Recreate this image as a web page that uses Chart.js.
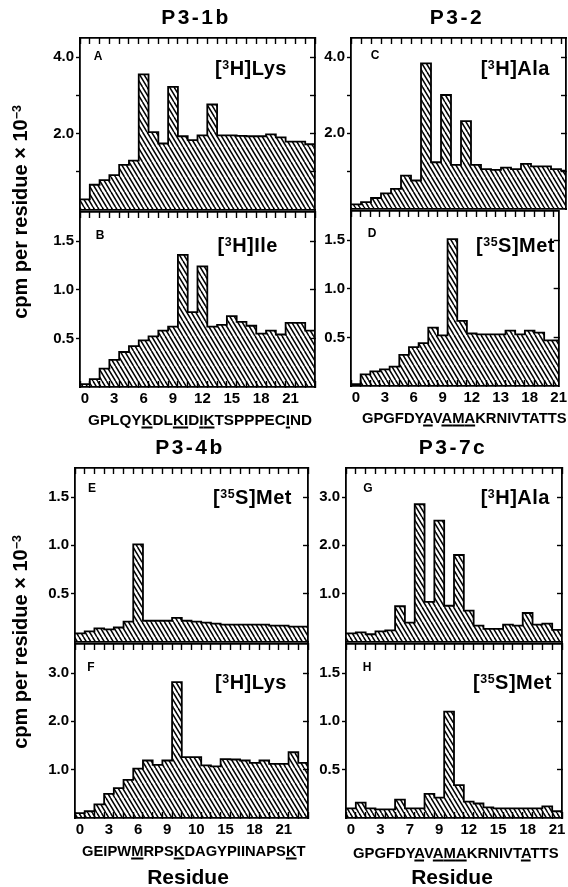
<!DOCTYPE html>
<html>
<head>
<meta charset="utf-8">
<script src="https://cdn.jsdelivr.net/npm/chart.js@4.4.1/dist/chart.umd.min.js"></script>
<style>
  html, body { margin: 0; padding: 0; background: #fff; }
  body { position: relative; width: 568px; height: 887px; overflow: hidden; font-family: "Liberation Sans", Arial, sans-serif; color: #000; }
  canvas { position: absolute; }
  .txt { position: absolute; white-space: nowrap; font-weight: bold; line-height: 1; }
  .txt sup { font-size: 62%; vertical-align: 0; position: relative; top: -0.5em; }
  .seq u { text-decoration-thickness: 1.5px; text-underline-offset: 2px; }
</style>
</head>
<body>
<script>
// cpm per residue x 10^-3, one value per residue bin
const lysA = [0.28, 0.66, 0.78, 0.91, 1.18, 1.29, 3.55, 2.04, 1.74, 3.22, 1.93, 1.83, 1.95, 2.76, 1.95, 1.95, 1.94, 1.93, 1.93, 1.98, 1.90, 1.79, 1.79, 1.72]
const ileB = [0.03, 0.08, 0.19, 0.28, 0.36, 0.42, 0.48, 0.52, 0.58, 0.62, 1.36, 0.77, 1.24, 0.62, 0.64, 0.73, 0.67, 0.63, 0.55, 0.58, 0.54, 0.66, 0.66, 0.58]
const alaC = [0.12, 0.18, 0.29, 0.41, 0.53, 0.88, 0.75, 3.83, 1.23, 3.00, 1.16, 2.31, 1.16, 1.05, 1.03, 1.09, 1.05, 1.19, 1.12, 1.12, 1.05, 1.01]
const metD = [0.02, 0.12, 0.15, 0.17, 0.20, 0.32, 0.40, 0.44, 0.60, 0.52, 1.51, 0.67, 0.54, 0.53, 0.53, 0.53, 0.57, 0.53, 0.57, 0.55, 0.47, 0.47]
const metE = [0.09, 0.11, 0.14, 0.13, 0.15, 0.21, 1.01, 0.22, 0.22, 0.22, 0.25, 0.22, 0.21, 0.20, 0.19, 0.18, 0.18, 0.18, 0.18, 0.18, 0.17, 0.17, 0.16, 0.16]
const lysF = [0.10, 0.14, 0.28, 0.50, 0.62, 0.79, 1.02, 1.19, 1.10, 1.19, 2.81, 1.26, 1.26, 1.09, 1.07, 1.22, 1.21, 1.19, 1.14, 1.19, 1.12, 1.12, 1.36, 1.14]
const alaG = [0.18, 0.20, 0.16, 0.22, 0.24, 0.74, 0.40, 2.85, 0.83, 2.51, 0.75, 1.80, 0.65, 0.34, 0.27, 0.27, 0.36, 0.34, 0.60, 0.36, 0.38, 0.25]
const metH = [0.10, 0.16, 0.10, 0.09, 0.09, 0.19, 0.10, 0.10, 0.25, 0.21, 1.10, 0.34, 0.17, 0.15, 0.11, 0.10, 0.10, 0.10, 0.10, 0.10, 0.12, 0.07]

// Tick labels (every third residue), as printed in the figure
const residuesAB = ["0", "3", "6", "9", "12", "15", "18", "21"]
const residuesCD = ["0", "3", "6", "9", "12", "13", "18", "21"]
const residuesF = ["0", "3", "6", "9", "10", "15", "18", "21"]
const residuesH = ["0", "3", "7", "9", "12", "15", "18", "21"]
const yTicksBig = [1, 2, 3, 4]
const yTicksMid = [1, 2, 3]
const yTicksSmall = [0.5, 1, 1.5]

// Sequences under the x axes, with the underlined positions
const seqAB = "GPLQYKDLKIDIKTSPPPECIND"
const seqCD = "GPGFDYAVAMAKRNIVTATTS"
const seqF = "GEIPWMRPSKDAGYPIINAPSKT"
const seqH = "GPGFDYAVAMAKRNIVTATTS"
const markAB = [5, 8, 9, 11, 12, 20]
const markCD = [6, 8, 9, 10]
const markF = [5, 9, 21]
const markH = [6, 8, 9, 10, 17]

const AXIS_W = 50, PAD = 10
const tickFont = { family: "Liberation Sans", weight: "bold", size: 15 }

// box = [left, top, right, bottom] of the plot area in page pixels
const panels = [
  { values: lysA, box: [80, 37, 315, 211], xMax: 24, yMax: 4.5, yTicks: yTicksBig, yLabels: [2, 4] },
  { values: ileB, box: [80, 211, 315, 387], xMax: 24, yMax: 1.8, yTicks: yTicksSmall, yLabels: yTicksSmall, xLabels: residuesAB },
  { values: alaC, box: [351, 37, 566, 210], xMax: 21.5, yMax: 4.5, yTicks: yTicksBig, yLabels: [2, 4] },
  { values: metD, box: [351, 210, 566, 386], xMax: 21.5, yMax: 1.8, yTicks: yTicksSmall, yLabels: yTicksSmall, xLabels: residuesCD },
  { values: metE, box: [75, 467, 308, 643], xMax: 24, yMax: 1.8, yTicks: yTicksSmall, yLabels: yTicksSmall },
  { values: lysF, box: [75, 643, 308, 818], xMax: 24, yMax: 3.6, yTicks: yTicksMid, yLabels: yTicksMid, xLabels: residuesF },
  { values: alaG, box: [346, 467, 562, 643], xMax: 22, yMax: 3.6, yTicks: yTicksMid, yLabels: yTicksMid },
  { values: metH, box: [346, 643, 562, 818], xMax: 22, yMax: 1.8, yTicks: yTicksSmall, yLabels: yTicksSmall, xLabels: residuesH }
]

function hatchPattern() {
  const tile = document.createElement("canvas")
  tile.width = 9
  tile.height = 15
  const c = tile.getContext("2d")
  c.strokeStyle = "#000"
  c.lineWidth = 1.5
  for (let k = -2; k <= 2; k++) {
    c.beginPath()
    c.moveTo(k * 4.5, 0)
    c.lineTo(k * 4.5 + 9, 15)
    c.stroke()
  }
  return c.createPattern(tile, "repeat")
}
const hatch = hatchPattern()

const halfSteps = max => Array.from({ length: Math.floor(max * 2) + 1 }, (_, k) => ({ value: k / 2 }))
const edgeTick = ctx => (ctx.tick && Number.isInteger(ctx.tick.value)) ? "#000" : "rgba(0,0,0,0)"

function makePanel(p) {
  const [left, top, right, bottom] = p.box
  const labels = p.xLabels || []
  const axisH = p.xLabels ? 26 : 0
  const cl = left - AXIS_W, ct = top - PAD
  const w = right + PAD - cl, h = bottom + axisH + PAD - ct

  const canvas = document.createElement("canvas")
  canvas.width = w
  canvas.height = h
  canvas.style.left = cl + "px"
  canvas.style.top = ct + "px"
  canvas.style.width = w + "px"
  canvas.style.height = h + "px"
  document.body.append(canvas)

  // step outline: each value holds from its bin start to the next bin
  const points = p.values.map((v, i) => ({ x: i, y: v }))
  points.push({ x: p.xMax, y: p.values[p.values.length - 1] })

  const border = { color: "#000", width: 1.8, z: 1 }
  const yBuild = s => { s.ticks = p.yTicks.map(v => ({ value: v })) }
  const xBuild = s => { s.ticks = halfSteps(p.xMax) }

  new Chart(canvas, {
    type: "line",
    data: {
      datasets: [{
        data: points,
        stepped: true,
        fill: "origin",
        backgroundColor: hatch,
        borderColor: "#000",
        borderWidth: 1.8,
        pointRadius: 0
      }]
    },
    options: {
      responsive: false,
      animation: false,
      devicePixelRatio: 1,
      layout: { padding: { left: 0, top: PAD, right: PAD, bottom: PAD } },
      plugins: { legend: { display: false }, tooltip: { enabled: false } },
      scales: {
        x: {
          type: "linear", position: "bottom", min: 0, max: p.xMax,
          afterBuildTicks: xBuild,
          afterFit: s => { s.height = axisH },
          grid: { drawOnChartArea: false, drawTicks: !!p.xLabels, tickLength: -6, tickWidth: 1.4, tickColor: edgeTick, z: 1 },
          border,
          ticks: {
            display: !!p.xLabels, autoSkip: false, maxRotation: 0, padding: 9, color: "#000", font: tickFont,
            callback: v => {
              const i = Math.floor(v)
              return (v % 1 === 0.5 && i % 3 === 0 && labels[i / 3]) ? labels[i / 3] : ""
            }
          }
        },
        xTop: {
          type: "linear", position: "top", min: 0, max: p.xMax,
          afterBuildTicks: xBuild,
          afterFit: s => { s.height = 0 },
          grid: { drawOnChartArea: false, tickLength: -6, tickWidth: 1.4, tickColor: edgeTick, z: 1 },
          border,
          ticks: { display: false, callback: () => "" }
        },
        y: {
          min: 0, max: p.yMax,
          afterBuildTicks: yBuild,
          afterFit: s => { s.width = AXIS_W },
          grid: { drawOnChartArea: false, tickLength: 4, tickWidth: 1.4, tickColor: "#000", z: 1 },
          border,
          ticks: { padding: 2, color: "#000", font: tickFont, callback: v => p.yLabels.includes(v) ? v.toFixed(1) : "" }
        },
        yRight: {
          position: "right", min: 0, max: p.yMax,
          afterBuildTicks: yBuild,
          afterFit: s => { s.width = 0 },
          grid: { drawOnChartArea: false, tickLength: -5, tickWidth: 1.4, tickColor: "#000", z: 1 },
          border,
          ticks: { display: false, callback: () => "" }
        }
      }
    }
  })
}

panels.forEach(makePanel)

// Text overlays: anchor "c" = centred, "r" = right edge at x
function addText(html, x, y, size, anchor, extra) {
  const div = document.createElement("div")
  div.className = "txt"
  div.innerHTML = html
  div.style.fontSize = size + "px"
  div.style.left = x + "px"
  div.style.top = y + "px"
  const shift = anchor == "r" ? "translate(-100%,-50%)" : "translate(-50%,-50%)"
  div.style.transform = shift + (extra || "")
  document.body.append(div)
  return div
}

function addSequence(seq, marks, x0, x1, y) {
  const html = [...seq].map((ch, i) => marks.includes(i) ? `<u>${ch}</u>` : ch).join("")
  const div = document.createElement("div")
  div.className = "txt seq"
  div.innerHTML = html
  div.style.fontSize = "15px"
  div.style.left = x0 + "px"
  div.style.top = y + "px"
  document.body.append(div)
  const scale = (x1 - x0) / div.offsetWidth
  div.style.transformOrigin = "0 50%"
  div.style.transform = `translateY(-50%) scaleX(${scale})`
}

// Panel titles
const titles = [["P3-1b", 196, 16], ["P3-2", 457, 16], ["P3-4b", 190, 446], ["P3-7c", 453, 446]]
titles.forEach(([t, x, y]) => { addText(t, x, y, 21, "c").style.letterSpacing = "2.5px" })

// Panel letters and isotope labels
const letters = [["A", 98, 56], ["B", 100, 235], ["C", 375, 55], ["D", 372, 233], ["E", 92, 488], ["F", 91, 667], ["G", 368, 488], ["H", 367, 667]]
letters.forEach(([t, x, y]) => addText(t, x, y, 12, "c"))

const isotopes = [
  ["[<sup>3</sup>H]Lys", 287, 68], ["[<sup>3</sup>H]Ile", 278, 245],
  ["[<sup>3</sup>H]Ala", 550, 68], ["[<sup>35</sup>S]Met", 555, 245],
  ["[<sup>35</sup>S]Met", 292, 497], ["[<sup>3</sup>H]Lys", 287, 682],
  ["[<sup>3</sup>H]Ala", 550, 497], ["[<sup>35</sup>S]Met", 552, 682]
]
isotopes.forEach(([t, x, y]) => { addText(t, x, y, 20, "r").style.letterSpacing = "0.5px" })

// Axis titles
const yTitle = "cpm per residue × 10<sup>−3</sup>"
addText(yTitle, 20, 212, 20, "c", " rotate(-90deg)")
addText(yTitle, 20, 642, 20, "c", " rotate(-90deg)")
addText("Residue", 188, 876, 21, "c")
addText("Residue", 452, 876, 21, "c")

// Sequences
addSequence(seqAB, markAB, 88, 312, 419)
addSequence(seqCD, markCD, 362, 567, 417)
addSequence(seqF, markF, 82, 306, 850)
addSequence(seqH, markH, 353, 559, 852)
</script>
</body>
</html>
